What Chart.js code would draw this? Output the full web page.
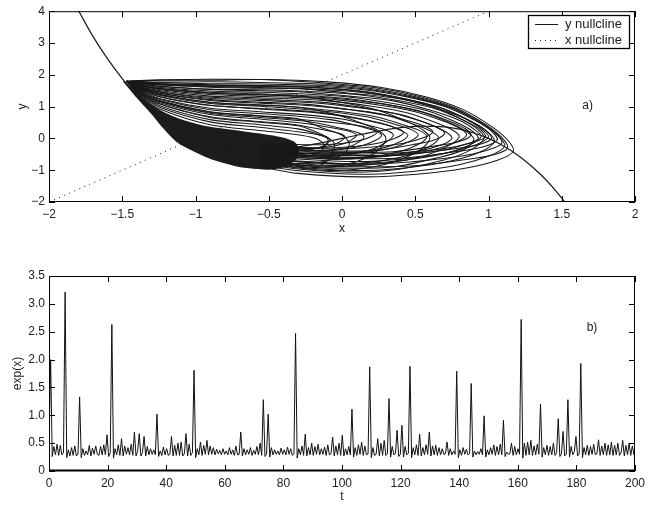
<!DOCTYPE html>
<html>
<head>
<meta charset="utf-8">
<script src="https://cdn.jsdelivr.net/npm/chart.js@4.4.1/dist/chart.umd.min.js"></script>
<style>
  body { margin: 0; background: #fff; }
  #wrap { position: relative; width: 660px; height: 506px; }
  canvas { position: absolute; left: 0; }
</style>
</head>
<body>
<div id="wrap">
  <canvas id="phase" width="660" height="250" style="top:0"></canvas>
  <canvas id="series" width="660" height="256" style="top:250px"></canvas>
</div>
<script>
//-------------------------------------------------- data
// cubic (y) nullcline
const yNullX = [-1.8, -1.7, -1.6, -1.5, -1.4, -1.3, -1.2, -1.1, -1.0, -0.9, -0.8, -0.7, -0.6, -0.5, -0.4, -0.3, -0.2, -0.1,
                0, 0.1, 0.2, 0.3, 0.4, 0.5, 0.6, 0.7, 0.8, 0.9, 1.0, 1.1, 1.2, 1.3, 1.4, 1.5, 1.55];
const yNullY = [4.03, 3.21, 2.50, 1.88, 1.34, 0.90, 0.53, 0.23, 0.00, -0.17, -0.29, -0.36, -0.38, -0.38, -0.34, -0.27, -0.19, -0.10,
                0.00, 0.10, 0.19, 0.27, 0.34, 0.38, 0.38, 0.36, 0.29, 0.17, 0.00, -0.23, -0.53, -0.90, -1.34, -1.88, -2.17];
// straight (x) nullcline
const xNullX = [-2, 1];
const xNullY = [-2, 4];

// densely visited wedge along the left branch
const blobX = [-1.49, -1.38, -1.24, -1.08, -0.9, -0.72, -0.56, -0.42, -0.33, -0.3, -0.31, -0.38, -0.5, -0.7, -0.9, -1.05, -1.13, -1.22, -1.3, -1.4, -1.49];
const blobY = [1.80, 1.30, 0.86, 0.55, 0.34, 0.23, 0.13, 0.02, -0.12, -0.30, -0.60, -0.86, -0.96, -0.88, -0.62, -0.30, -0.08, 0.35, 0.80, 1.30, 1.80];

// excursions of the trajectory, x,y pairs
const orbitLoops = [
  [-0.55,-0.9, -0.3,-1.1, 0.14,-1.21, 0.51,-1.13, 0.85,-0.93, 1.07,-0.67, 1.17,-0.4, 1.13,-0.05, 1.02,0.38, 0.82,0.92, 0.57,1.31, 0.27,1.6, -0.08,1.77, -0.5,1.85, -0.9,1.86, -1.24,1.84, -1.38,1.82, -1.47,1.8],
  [-0.55,-0.67, -0.3,-0.84, 0.13,-0.89, 0.49,-0.86, 0.82,-0.68, 1.03,-0.52, 1.13,-0.3, 1.09,0.03, 0.98,0.44, 0.78,0.95, 0.53,1.32, 0.23,1.59, -0.12,1.74, -0.55,1.85, -0.9,1.83, -1.24,1.83, -1.38,1.81, -1.47,1.79],
  [-0.55,-0.85, -0.3,-1.02, 0.12,-1.13, 0.48,-1.04, 0.8,-0.83, 1.01,-0.54, 1.11,-0.25, 1.07,0.07, 0.96,0.46, 0.76,0.95, 0.51,1.3, 0.21,1.56, -0.14,1.71, -0.56,1.76, -0.9,1.78, -1.24,1.77, -1.38,1.79, -1.47,1.8],
  [-0.55,-0.61, -0.3,-0.73, 0.12,-0.81, 0.46,-0.74, 0.78,-0.58, 0.99,-0.37, 1.09,-0.15, 1.05,0.15, 0.94,0.51, 0.74,0.97, 0.49,1.29, 0.19,1.54, -0.16,1.67, -0.56,1.71, -0.9,1.72, -1.24,1.75, -1.38,1.77, -1.47,1.8],
  [-0.55,-0.48, -0.3,-0.61, 0.11,-0.64, 0.45,-0.61, 0.76,-0.43, 0.96,-0.27, 1.06,-0.05, 1.02,0.23, 0.91,0.56, 0.71,0.99, 0.46,1.29, 0.16,1.52, -0.19,1.64, -0.56,1.66, -0.9,1.69, -1.24,1.72, -1.38,1.76, -1.47,1.79],
  [-0.55,-0.76, -0.3,-0.91, 0.1,-1.01, 0.44,-0.92, 0.75,-0.7, 0.95,-0.41, 1.04,-0.1, 1.0,0.18, 0.89,0.51, 0.69,0.94, 0.44,1.24, 0.14,1.48, -0.21,1.6, -0.56,1.64, -0.9,1.65, -1.24,1.71, -1.38,1.75, -1.47,1.8],
  [-0.55,-0.4, -0.3,-0.52, 0.1,-0.54, 0.43,-0.52, 0.73,-0.35, 0.93,-0.2, 1.02,0.0, 0.98,0.26, 0.87,0.56, 0.67,0.96, 0.42,1.24, 0.12,1.45, -0.23,1.56, -0.56,1.6, -0.9,1.63, -1.24,1.69, -1.38,1.74, -1.47,1.79],
  [-0.55,-0.55, -0.3,-0.65, 0.09,-0.73, 0.42,-0.65, 0.71,-0.46, 0.91,-0.21, 1.0,0.05, 0.96,0.27, 0.85,0.6, 0.65,0.94, 0.4,1.24, 0.1,1.4, -0.25,1.55, -0.56,1.58, -0.9,1.61, -1.24,1.68, -1.38,1.73, -1.47,1.8],
  [-0.55,-0.37, -0.3,-0.47, 0.08,-0.5, 0.4,-0.45, 0.7,-0.32, 0.89,-0.13, 0.98,0.05, 0.94,0.29, 0.83,0.57, 0.63,0.94, 0.38,1.19, 0.08,1.39, -0.27,1.49, -0.56,1.53, -0.9,1.55, -1.24,1.64, -1.38,1.72, -1.47,1.79],
  [-0.55,-0.59, -0.3,-0.71, 0.08,-0.79, 0.39,-0.7, 0.68,-0.5, 0.86,-0.23, 0.95,0.05, 0.91,0.26, 0.8,0.57, 0.6,0.89, 0.35,1.18, 0.05,1.33, -0.3,1.47, -0.56,1.5, -0.9,1.54, -1.24,1.63, -1.38,1.71, -1.47,1.8],
  [-0.55,-0.45, -0.3,-0.52, 0.07,-0.59, 0.38,-0.52, 0.66,-0.39, 0.84,-0.19, 0.93,0.0, 0.89,0.23, 0.78,0.51, 0.58,0.87, 0.33,1.11, 0.03,1.31, -0.32,1.41, -0.56,1.45, -0.9,1.49, -1.24,1.6, -1.38,1.7, -1.47,1.79],
  [-0.55,-0.7, -0.3,-0.88, 0.06,-0.94, 0.36,-0.89, 0.64,-0.62, 0.82,-0.38, 0.9,-0.05, 0.86,0.18, 0.75,0.46, 0.55,0.82, 0.3,1.07, 0.0,1.27, -0.35,1.37, -0.56,1.4, -0.9,1.45, -1.24,1.57, -1.38,1.68, -1.47,1.8],
  [-0.55,-0.33, -0.3,-0.42, 0.05,-0.44, 0.35,-0.42, 0.62,-0.25, 0.8,-0.1, 0.88,0.1, 0.84,0.31, 0.73,0.55, 0.53,0.86, 0.28,1.08, -0.02,1.25, -0.37,1.34, -0.56,1.37, -0.9,1.42, -1.24,1.56, -1.38,1.67, -1.47,1.79],
  [-0.55,-0.48, -0.3,-0.56, 0.05,-0.63, 0.33,-0.55, 0.6,-0.38, 0.77,-0.14, 0.85,0.1, 0.81,0.3, 0.7,0.53, 0.5,0.84, 0.25,1.05, -0.05,1.22, -0.4,1.3, -0.6,1.33, -0.9,1.38, -1.24,1.53, -1.38,1.66, -1.47,1.8],
  [-0.55,-0.63, -0.3,-0.79, 0.03,-0.86, 0.31,-0.77, 0.56,-0.55, 0.72,-0.25, 0.8,0.05, 0.76,0.25, 0.65,0.48, 0.45,0.8, 0.2,1.01, -0.1,1.18, -0.45,1.26, -0.65,1.29, -0.9,1.33, -1.24,1.5, -1.38,1.64, -1.47,1.79],
  [-0.55,-0.46, -0.3,-0.54, 0.02,-0.61, 0.28,-0.54, 0.52,-0.4, 0.68,-0.2, 0.75,0.0, 0.71,0.2, 0.6,0.44, 0.4,0.75, 0.15,0.96, -0.15,1.14, -0.5,1.22, -0.7,1.26, -0.95,1.31, -1.24,1.47, -1.38,1.63, -1.47,1.8],
  [-0.55,-0.29, -0.3,-0.38, 0.0,-0.4, 0.25,-0.37, 0.48,-0.2, 0.63,-0.05, 0.7,0.15, 0.66,0.32, 0.55,0.52, 0.35,0.79, 0.1,0.97, -0.2,1.12, -0.55,1.19, -0.75,1.23, -0.95,1.28, -1.24,1.45, -1.38,1.62, -1.47,1.79],
  [-0.55,-0.61, -0.3,-0.73, -0.01,-0.81, 0.23,-0.73, 0.45,-0.53, 0.59,-0.27, 0.66,0.0, 0.62,0.19, 0.51,0.41, 0.31,0.71, 0.06,0.9, -0.24,1.07, -0.56,1.14, -0.9,1.22, -1.24,1.42, -1.38,1.6, -1.47,1.8],
  [-0.55,-0.23, -0.3,-0.3, -0.02,-0.33, 0.21,-0.27, 0.42,-0.15, 0.56,0.03, 0.62,0.2, 0.58,0.35, 0.47,0.53, 0.27,0.77, 0.02,0.92, -0.28,1.05, -0.56,1.11, -0.9,1.19, -1.24,1.41, -1.38,1.59, -1.47,1.79],
  [-0.55,-0.5, -0.3,-0.59, -0.04,-0.66, 0.18,-0.59, 0.39,-0.42, 0.52,-0.19, 0.58,0.05, 0.54,0.22, 0.43,0.41, 0.23,0.68, -0.02,0.85, -0.32,0.99, -0.56,1.06, -0.9,1.14, -1.24,1.38, -1.38,1.58, -1.47,1.8],
  [-0.55,-0.37, -0.3,-0.47, -0.05,-0.5, 0.15,-0.44, 0.34,-0.3, 0.46,-0.1, 0.52,0.1, 0.48,0.26, 0.37,0.43, 0.17,0.68, -0.08,0.84, -0.38,0.96, -0.56,1.01, -0.9,1.1, -1.24,1.35, -1.38,1.56, -1.47,1.79],
  [-0.55,-0.35, -0.3,-0.45, -0.08,-0.48, 0.11,-0.42, 0.29,-0.29, 0.4,-0.1, 0.45,0.1, 0.41,0.23, 0.3,0.44, 0.1,0.64, -0.15,0.82, -0.45,0.92, -0.65,0.96, -0.9,1.04, -1.24,1.31, -1.38,1.54, -1.47,1.8],
  [-0.55,-0.22, -0.3,-0.29, -0.08,-0.3, 0.1,-0.25, 0.26,-0.14, 0.37,0.02, 0.42,0.18, 0.38,0.31, 0.27,0.46, 0.07,0.65, -0.18,0.81, -0.48,0.9, -0.7,0.97, -0.95,1.06, -1.24,1.3, -1.38,1.53, -1.47,1.79],
  [-0.55,-0.42, -0.3,-0.5, -0.1,-0.56, 0.06,-0.49, 0.21,-0.33, 0.3,-0.12, 0.35,0.1, 0.31,0.24, 0.2,0.39, 0.0,0.61, -0.25,0.74, -0.56,0.84, -0.9,0.95, -1.24,1.25, -1.38,1.51, -1.47,1.8],
  [-0.55,-0.28, -0.3,-0.36, -0.13,-0.38, 0.01,-0.33, 0.14,-0.22, 0.23,-0.06, 0.27,0.1, 0.23,0.23, 0.12,0.38, -0.08,0.59, -0.33,0.71, -0.56,0.78, -0.9,0.9, -1.24,1.22, -1.38,1.49, -1.47,1.79],
  [-0.55,-0.14, -0.3,-0.19, -0.14,-0.2, 0.0,-0.16, 0.12,-0.07, 0.2,0.06, 0.24,0.2, 0.2,0.31, 0.09,0.42, -0.11,0.52, -0.3,0.6, -0.56,0.7, -0.9,0.82, -1.24,1.17, -1.38,1.47, -1.47,1.8],
  [-0.55,-0.33, -0.3,-0.38, -0.17,-0.43, -0.05,-0.37, 0.05,-0.26, 0.12,-0.1, 0.15,0.05, 0.11,0.18, 0.0,0.31, -0.2,0.51, -0.56,0.66, -0.9,0.79, -1.24,1.15, -1.38,1.46, -1.47,1.79],
  [-0.55,-0.22, -0.3,-0.29, -0.18,-0.3, -0.08,-0.26, 0.01,-0.17, 0.07,-0.03, 0.1,0.1, 0.06,0.21, -0.05,0.32, -0.25,0.47, -0.56,0.61, -0.9,0.75, -1.24,1.12, -1.38,1.44, -1.47,1.8],
  [-0.55,-0.24, -0.3,-0.27, -0.2,-0.31, -0.12,-0.26, -0.05,-0.18, 0.0,-0.06, 0.02,0.05, -0.02,0.16, -0.13,0.27, -0.33,0.44, -0.56,0.53, -0.9,0.68, -1.24,1.08, -1.38,1.42, -1.47,1.79],
  [-0.55,-0.27, -0.3,-0.33, -0.23,-0.35, -0.18,-0.32, -0.13,-0.25, -0.1,-0.14, -0.08,-0.05, -0.12,0.06, -0.23,0.17, -0.56,0.35, -0.9,0.52, -1.24,0.97, -1.38,1.36, -1.47,1.8],
  [-0.55,-0.8, -0.3,-0.96, 0.08,-1.06, 0.4,-0.96, 0.69,-0.69, 0.88,-0.36, 0.97,0.0, 0.93,0.27, 0.82,0.59, 0.62,1.0, 0.37,1.28, 0.07,1.51, -0.28,1.62, -0.56,1.64, -0.9,1.67, -1.24,1.71, -1.38,1.75, -1.47,1.8],
  [-0.55,-0.74, -0.3,-0.93, -0.03,-1.01, 0.2,-0.91, 0.4,-0.66, 0.54,-0.34, 0.6,0.0, 0.56,0.24, 0.45,0.52, 0.25,0.88, 0.0,1.13, -0.3,1.33, -0.56,1.37, -0.9,1.43, -1.24,1.56, -1.38,1.67, -1.47,1.79],
  [-0.55,-0.69, -0.3,-0.82, -0.12,-0.91, 0.03,-0.82, 0.17,-0.6, 0.26,-0.31, 0.3,0.0, 0.26,0.21, 0.15,0.45, -0.05,0.76, -0.3,0.98, -0.56,1.04, -0.9,1.13, -1.24,1.37, -1.38,1.57, -1.47,1.8],
  [-0.55,-0.72, -0.3,-0.86, -0.23,-0.96, -0.16,-0.88, -0.1,-0.7, -0.07,-0.45, -0.05,-0.2, -0.09,0.01, -0.2,0.25, -0.3,0.4, -0.56,0.51, -0.9,0.66, -1.24,1.07, -1.38,1.41, -1.47,1.79],
  [-0.55,-0.55, -0.4,-0.62, -0.25,-0.58, -0.15,-0.42, -0.12,-0.22, -0.17,-0.02, -0.28,0.1, -0.56,0.25, -0.9,0.43, -1.24,0.92, -1.38,1.33, -1.47,1.79],
  [-0.5,-0.3, -0.35,-0.38, -0.2,-0.33, -0.1,-0.18, -0.1,0.0, -0.18,0.16, -0.3,0.3, -0.56,0.43, -0.9,0.59, -1.24,1.02, -1.38,1.38, -1.47,1.8],
  [-0.5,-0.75, -0.3,-0.8, -0.1,-0.7, 0.02,-0.45, 0.05,-0.15, 0.0,0.1, -0.12,0.3, -0.3,0.62, -0.56,0.71, -0.9,0.84, -1.24,1.18, -1.38,1.47, -1.47,1.8]
];

// exp(x) sampled every tStep
const tStep = 0.55;
const expX = [
  0.45, 2.00, 0.26, 0.44, 0.29, 0.48, 0.28, 0.46, 0.29, 0.33,
  3.21, 0.24, 0.38, 0.27, 0.42, 0.28, 0.45, 0.27, 0.31, 1.33,
  0.24, 0.40, 0.28, 0.36, 0.29, 0.46, 0.27, 0.41, 0.30, 0.45,
  0.30, 0.28, 0.44, 0.29, 0.47, 0.29, 0.65, 0.26, 0.33, 2.63,
  0.23, 0.40, 0.29, 0.47, 0.28, 0.58, 0.27, 0.45, 0.30, 0.42,
  0.29, 0.48, 0.28, 0.70, 0.27, 0.35, 0.67, 0.27, 0.33, 0.62,
  0.27, 0.44, 0.29, 0.40, 0.30, 0.38, 0.29, 1.02, 0.26, 0.36,
  0.28, 0.43, 0.29, 0.40, 0.28, 0.30, 0.62, 0.27, 0.46, 0.28,
  0.50, 0.28, 0.52, 0.27, 0.31, 0.67, 0.27, 0.48, 0.28, 0.33,
  1.81, 0.24, 0.40, 0.29, 0.52, 0.28, 0.46, 0.30, 0.55, 0.29,
  0.45, 0.30, 0.42, 0.29, 0.39, 0.31, 0.37, 0.29, 0.40, 0.30,
  0.36, 0.29, 0.42, 0.30, 0.38, 0.28, 0.45, 0.29, 0.30, 0.70,
  0.27, 0.40, 0.29, 0.38, 0.30, 0.42, 0.28, 0.37, 0.30, 0.44,
  0.29, 0.50, 0.28, 1.28, 0.26, 0.30, 1.02, 0.25, 0.42, 0.29,
  0.38, 0.30, 0.36, 0.29, 0.41, 0.30, 0.38, 0.29, 0.43, 0.30,
  0.40, 0.28, 0.31, 2.47, 0.23, 0.40, 0.29, 0.45, 0.28, 0.66,
  0.27, 0.42, 0.29, 0.50, 0.28, 0.44, 0.30, 0.48, 0.29, 0.40,
  0.30, 0.43, 0.28, 0.47, 0.29, 0.31, 0.61, 0.27, 0.45, 0.29,
  0.50, 0.28, 0.64, 0.27, 0.40, 0.29, 0.44, 0.29, 1.11, 0.25,
  0.42, 0.28, 0.47, 0.30, 0.52, 0.28, 0.45, 0.29, 0.31, 1.87,
  0.24, 0.42, 0.28, 0.30, 0.58, 0.27, 0.50, 0.28, 0.55, 0.28,
  0.31, 1.30, 0.25, 0.44, 0.29, 0.31, 0.73, 0.26, 0.30, 0.82,
  0.25, 0.44, 0.29, 0.32, 1.88, 0.24, 0.42, 0.29, 0.47, 0.28,
  0.66, 0.27, 0.42, 0.29, 0.47, 0.30, 0.70, 0.27, 0.45, 0.29,
  0.46, 0.28, 0.42, 0.29, 0.40, 0.30, 0.31, 0.52, 0.28, 0.40,
  0.29, 0.36, 0.30, 1.79, 0.24, 0.38, 0.28, 0.42, 0.30, 0.39,
  0.29, 0.31, 1.57, 0.25, 0.36, 0.29, 0.35, 0.30, 0.40, 0.29,
  0.99, 0.25, 0.38, 0.29, 0.42, 0.30, 0.47, 0.28, 0.44, 0.29,
  0.48, 0.29, 0.91, 0.26, 0.34, 0.30, 0.31, 0.50, 0.28, 0.44,
  0.29, 0.40, 0.30, 2.72, 0.23, 0.50, 0.28, 0.52, 0.29, 0.55,
  0.28, 0.45, 0.29, 0.48, 0.30, 1.20, 0.25, 0.42, 0.29, 0.46,
  0.28, 0.44, 0.29, 0.50, 0.28, 0.33, 0.94, 0.26, 0.30, 0.71,
  0.27, 0.30, 1.28, 0.25, 0.44, 0.29, 0.35, 0.62, 0.27, 0.31,
  1.93, 0.24, 0.42, 0.29, 0.46, 0.28, 0.44, 0.30, 0.48, 0.29,
  0.31, 0.56, 0.28, 0.45, 0.29, 0.50, 0.28, 0.47, 0.29, 0.52,
  0.28, 0.46, 0.29, 0.50, 0.28, 0.33, 0.55, 0.27, 0.46, 0.29,
  0.50, 0.28, 0.45, 0.29, 0.42
];

// legend entries and panel tags
const legendLabels = ['y nullcline', 'x nullcline'];
const panelTags = ['a)', 'b)'];
//^^^^^^^^^^^^^^^^^^^^^^^^^^^^^^^^^^^^^^^^^^^^^^^^^^ data

const FONT = '"Liberation Sans", Arial, Helvetica, sans-serif';
const INK = '#1a1a1a';
Chart.defaults.font.family = FONT;
Chart.defaults.font.size = 12;
Chart.defaults.color = '#222';

const toPts = (xs, ys) => xs.map((x, i) => ({ x: x, y: ys[i] }));
const pairPts = arr => {
    const out = [];
    for (let i = 0; i < arr.length; i += 2) out.push({ x: arr[i], y: arr[i + 1] });
    return out;
};
const minus = v => String(v).replace('-', '\u2212');

// matlab-like frame: full box, inward ticks on all four sides, panel tag
const framePlugin = {
    id: 'frame',
    afterDatasetsDraw(chart, args, opts) {
        const { ctx, chartArea: a } = chart;
        const xs = chart.scales.x, ys = chart.scales.y;
        ctx.save();
        ctx.strokeStyle = '#000';
        ctx.lineWidth = 1;
        ctx.strokeRect(a.left + 0.5, a.top + 0.5, a.right - a.left - 1, a.bottom - a.top - 1);
        ctx.beginPath();
        xs.ticks.forEach(t => {
            const px = Math.round(xs.getPixelForValue(t.value)) + 0.5;
            ctx.moveTo(px, a.bottom); ctx.lineTo(px, a.bottom - 6);
            ctx.moveTo(px, a.top); ctx.lineTo(px, a.top + 6);
        });
        ys.ticks.forEach(t => {
            const py = Math.round(ys.getPixelForValue(t.value)) + 0.5;
            ctx.moveTo(a.left, py); ctx.lineTo(a.left + 6, py);
            ctx.moveTo(a.right, py); ctx.lineTo(a.right - 6, py);
        });
        ctx.stroke();
        if (opts.heavyBottom) {
            ctx.lineWidth = 2;
            ctx.beginPath();
            ctx.moveTo(a.left, a.bottom - 0.5); ctx.lineTo(a.right, a.bottom - 0.5);
            ctx.stroke();
        }
        if (opts.tag) {
            ctx.font = '12px ' + FONT;
            ctx.fillStyle = '#222';
            ctx.textBaseline = 'middle';
            ctx.fillText(opts.tag, xs.getPixelForValue(opts.tagAt[0]), ys.getPixelForValue(opts.tagAt[1]));
        }
        if (opts.legend) {
            const L = opts.legend;
            ctx.fillStyle = '#fff';
            ctx.fillRect(L.x, L.y, L.w, L.h);
            ctx.lineWidth = 1.3;
            ctx.strokeStyle = '#000';
            ctx.strokeRect(L.x + 0.5, L.y + 0.5, L.w, L.h);
            ctx.font = '13px ' + FONT;
            ctx.fillStyle = '#222';
            ctx.textBaseline = 'middle';
            legendLabels.forEach((lab, i) => {
                const ly = L.y + 9.5 + i * 16;
                ctx.lineWidth = 1;
                ctx.strokeStyle = INK;
                ctx.setLineDash(i === 0 ? [] : [1, 4]);
                ctx.beginPath();
                ctx.moveTo(L.x + 7, ly); ctx.lineTo(L.x + 30, ly);
                ctx.stroke();
                ctx.setLineDash([]);
                ctx.fillText(lab, L.x + 37, ly);
            });
        }
        ctx.restore();
    }
};

//-------------------------------------------------- a) phase plane
const phaseSets = [];
phaseSets.push({
    data: toPts(yNullX, yNullY), showLine: true, borderColor: INK, borderWidth: 1.2,
    pointRadius: 0, tension: 0.4, order: 0
});
orbitLoops.forEach(loop => phaseSets.push({
    data: pairPts(loop), showLine: true, borderColor: '#181818', borderWidth: 1.05,
    pointRadius: 0, tension: 0.3, order: 1
}));
phaseSets.push({
    data: toPts(blobX, blobY), showLine: true, borderColor: '#1c1c1c', backgroundColor: '#1c1c1c',
    borderWidth: 1.5, fill: 'shape', pointRadius: 0, tension: 0.2, order: 2
});
phaseSets.push({
    data: toPts(xNullX, xNullY), showLine: true, borderColor: INK, borderWidth: 1,
    borderDash: [1, 4.5], pointRadius: 0, order: 3
});

new Chart(document.getElementById('phase'), {
    type: 'scatter',
    data: { datasets: phaseSets },
    options: {
        responsive: false,
        animation: false,
        devicePixelRatio: 1,
        layout: { padding: { left: 0, top: 9, right: 25, bottom: 0 } },
        plugins: {
            legend: { display: false },
            tooltip: { enabled: false },
            frame: { tag: panelTags[0], tagAt: [1.64, 1.02], legend: { x: 528, y: 15, w: 101, h: 33 } }
        },
        scales: {
            x: {
                type: 'linear', min: -2, max: 2,
                grid: { display: false, drawTicks: false }, border: { display: false },
                ticks: { stepSize: 0.5, padding: 5, autoSkip: false, maxRotation: 0, callback: v => minus(v) },
                title: { display: true, text: 'x', padding: { top: 0, bottom: 14 } },
                afterFit: s => { s.height = 48; }
            },
            y: {
                type: 'linear', min: -2, max: 4,
                grid: { display: false, drawTicks: false }, border: { display: false },
                ticks: { stepSize: 1, padding: 4, autoSkip: false, callback: v => minus(v) },
                title: { display: true, text: 'y', padding: { top: 15, bottom: 0 } },
                afterFit: s => { s.width = 49; }
            }
        }
    },
    plugins: [framePlugin]
});

//-------------------------------------------------- b) time series
new Chart(document.getElementById('series'), {
    type: 'scatter',
    data: {
        datasets: [{
            data: expX.map((v, i) => ({ x: i * tStep, y: v })),
            showLine: true, borderColor: '#111', borderWidth: 1, pointRadius: 0, tension: 0
        }]
    },
    options: {
        responsive: false,
        animation: false,
        devicePixelRatio: 1,
        layout: { padding: { left: 0, top: 26, right: 25, bottom: 0 } },
        plugins: {
            legend: { display: false },
            tooltip: { enabled: false },
            frame: { tag: panelTags[1], tagAt: [183.5, 2.58], heavyBottom: true }
        },
        scales: {
            x: {
                type: 'linear', min: 0, max: 200,
                grid: { display: false, drawTicks: false }, border: { display: false },
                ticks: { stepSize: 20, padding: 5, autoSkip: false, maxRotation: 0 },
                title: { display: true, text: 't', padding: { top: 0, bottom: 2 } },
                afterFit: s => { s.height = 35; }
            },
            y: {
                type: 'linear', min: 0, max: 3.5,
                grid: { display: false, drawTicks: false }, border: { display: false },
                ticks: { stepSize: 0.5, padding: 4, autoSkip: false },
                title: { display: true, text: 'exp(x)', padding: { top: 10, bottom: 0 } },
                afterFit: s => { s.width = 49; }
            }
        }
    },
    plugins: [framePlugin]
});
</script>
</body>
</html>
